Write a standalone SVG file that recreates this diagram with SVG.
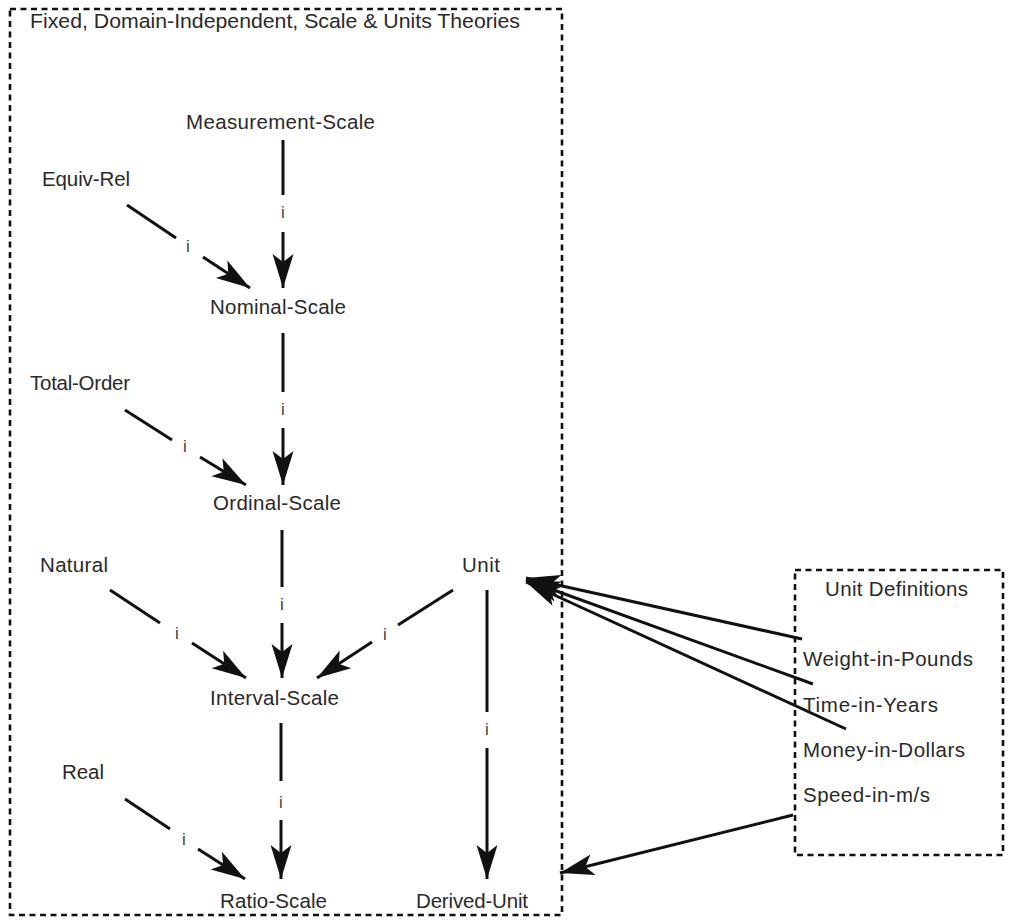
<svg xmlns="http://www.w3.org/2000/svg" width="1009" height="920" viewBox="0 0 1009 920">
  <defs>
    <marker id="head" markerUnits="userSpaceOnUse" markerWidth="40" markerHeight="24" viewBox="-36 -12 40 24" refX="0" refY="0" orient="auto">
      <path d="M0,0 L-34,-10.5 L-26,0 L-34,10.5 Z" fill="#111"/>
    </marker>
    <style>
      .lbl { font-family: "Liberation Sans", Arial, Helvetica, sans-serif; font-size: 20.5px; fill: #2a2a2a; }
      .inst { font-family: "Liberation Sans", Arial, Helvetica, sans-serif; font-size: 17px; fill: #444; text-anchor: middle; }
      .frame { fill: none; stroke: #111; stroke-width: 2.6; stroke-dasharray: 6 4.5; }
      .edge { fill: none; stroke: #111; stroke-width: 3; }
      .arrow { fill: none; stroke: #111; stroke-width: 3; marker-end: url(#head); }
    </style>
  </defs>
  <rect width="1009" height="920" fill="#fff"/>

  <!-- theory boundaries -->
  <g id="frames">
    <rect class="frame" x="10" y="9" width="552" height="906"/>
    <rect class="frame" x="795" y="570" width="208" height="285"/>
  </g>

  <g id="title">
    <text class="lbl" x="30" y="28" textLength="490" lengthAdjust="spacingAndGlyphs">Fixed, Domain-Independent, Scale &amp; Units Theories</text>
  </g>

  <!-- nodes -->
  <g id="measurement-scale"><text class="lbl" x="186" y="129" textLength="189">Measurement-Scale</text></g>
  <g id="equiv-rel"><text class="lbl" x="42" y="186" textLength="88">Equiv-Rel</text></g>
  <g id="nominal-scale"><text class="lbl" x="210" y="314" textLength="136">Nominal-Scale</text></g>
  <g id="total-order"><text class="lbl" x="30" y="390" textLength="100">Total-Order</text></g>
  <g id="ordinal-scale"><text class="lbl" x="213" y="510" textLength="128">Ordinal-Scale</text></g>
  <g id="natural"><text class="lbl" x="40" y="572" textLength="68">Natural</text></g>
  <g id="unit"><text class="lbl" x="462" y="572" textLength="38">Unit</text></g>
  <g id="interval-scale"><text class="lbl" x="210" y="705" textLength="129">Interval-Scale</text></g>
  <g id="real"><text class="lbl" x="62" y="779" textLength="42">Real</text></g>
  <g id="ratio-scale"><text class="lbl" x="220" y="908" textLength="107">Ratio-Scale</text></g>
  <g id="derived-unit"><text class="lbl" x="416" y="908" textLength="112">Derived-Unit</text></g>

  <g id="unit-definitions">
    <text class="lbl" x="825" y="596" textLength="143">Unit Definitions</text>
    <text class="lbl" x="803" y="666" textLength="170">Weight-in-Pounds</text>
    <text class="lbl" x="803" y="712" textLength="135">Time-in-Years</text>
    <text class="lbl" x="803" y="757" textLength="162">Money-in-Dollars</text>
    <text class="lbl" x="803" y="802" textLength="127">Speed-in-m/s</text>
  </g>

  <!-- instance-of links (broken around their "i" tags) and unit references -->
  <g id="connectors">
    <!-- Measurement-Scale -> Nominal-Scale -->
    <line class="edge" x1="283" y1="140" x2="283" y2="195"/>
    <text class="inst" x="283" y="218">i</text>
    <line class="arrow" x1="283" y1="232" x2="283" y2="288"/>

    <!-- Equiv-Rel -> Nominal-Scale -->
    <line class="edge" x1="127" y1="205" x2="176" y2="238"/>
    <text class="inst" x="188" y="252">i</text>
    <line class="arrow" x1="203" y1="257" x2="250" y2="288"/>

    <!-- Nominal-Scale -> Ordinal-Scale -->
    <line class="edge" x1="283" y1="333" x2="283" y2="392"/>
    <text class="inst" x="283" y="415">i</text>
    <line class="arrow" x1="283" y1="428" x2="283" y2="485"/>

    <!-- Total-Order -> Ordinal-Scale -->
    <line class="edge" x1="125" y1="410" x2="172" y2="440"/>
    <text class="inst" x="185" y="452">i</text>
    <line class="arrow" x1="200" y1="457" x2="246" y2="485"/>

    <!-- Ordinal-Scale -> Interval-Scale -->
    <line class="edge" x1="282" y1="530" x2="282" y2="587"/>
    <text class="inst" x="282" y="610">i</text>
    <line class="arrow" x1="282" y1="623" x2="282" y2="678"/>

    <!-- Natural -> Interval-Scale -->
    <line class="edge" x1="110" y1="590" x2="160" y2="623"/>
    <text class="inst" x="177" y="639">i</text>
    <line class="arrow" x1="192" y1="643" x2="246" y2="678"/>

    <!-- Unit -> Interval-Scale -->
    <line class="edge" x1="453" y1="590" x2="398" y2="625"/>
    <text class="inst" x="385" y="640">i</text>
    <line class="arrow" x1="372" y1="642" x2="317" y2="678"/>

    <!-- Interval-Scale -> Ratio-Scale -->
    <line class="edge" x1="281" y1="723" x2="281" y2="781"/>
    <text class="inst" x="281" y="808">i</text>
    <line class="arrow" x1="281" y1="820" x2="281" y2="879"/>

    <!-- Real -> Ratio-Scale -->
    <line class="edge" x1="125" y1="799" x2="170" y2="829"/>
    <text class="inst" x="184" y="845">i</text>
    <line class="arrow" x1="198" y1="849" x2="245" y2="879"/>

    <!-- Unit -> Derived-Unit -->
    <line class="edge" x1="487" y1="590" x2="487" y2="712"/>
    <text class="inst" x="487" y="735">i</text>
    <line class="arrow" x1="487" y1="748" x2="487" y2="879"/>

    <!-- unit definitions -> Unit / Derived-Unit -->
    <line class="arrow" x1="802" y1="639" x2="526" y2="578"/>
    <line class="arrow" x1="813" y1="684" x2="526" y2="580"/>
    <line class="arrow" x1="846" y1="729" x2="526" y2="582"/>
    <line class="arrow" x1="793" y1="815" x2="560" y2="873"/>
  </g>
</svg>
